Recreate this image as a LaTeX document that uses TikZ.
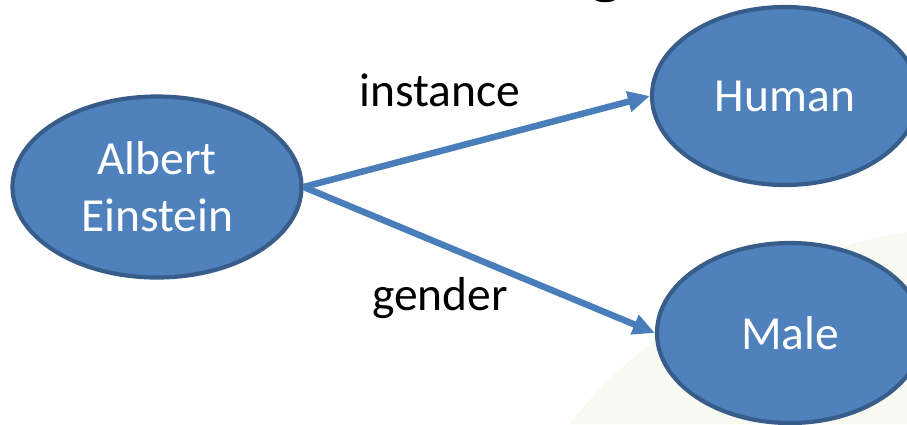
\documentclass[tikz,border=0pt]{standalone}
\usepackage{fontspec}
\setmainfont{Carlito}
\usetikzlibrary{shapes.geometric,arrows.meta}
\definecolor{nodefill}{HTML}{4F81BD}
\definecolor{nodeline}{HTML}{385D8A}
\definecolor{arrowcol}{HTML}{4A7EBB}
\definecolor{bggreen}{HTML}{F8FAF2}
\tikzset{
  entity/.style={ellipse, fill=nodefill, draw=nodeline, line width=4.2pt,
    inner sep=0pt, text=white, align=center,
    font=\fontsize{47.5}{57}\selectfont},
  rel/.style={draw=arrowcol, line width=6.5pt,
    -{Triangle[length=22pt,width=20pt]}},
  rellabel/.style={text=black, font=\fontsize{47.5}{57}\selectfont, inner sep=0pt}
}
\begin{document}
\begin{tikzpicture}[x=1pt,y=-1pt]
\useasboundingbox (0,0) rectangle (907,424);
\fill[white] (0,0) rectangle (907,424);
\fill[bggreen] (570,424) .. controls (640,330) and (780,252) .. (907,232) -- (907,424) -- cycle;
\fill[black] (595,0) .. controls (600,3) and (610,3) .. (615,0) -- cycle;
\node[entity, minimum width=289pt, minimum height=181pt] (ae) at (157,187) {Albert\\Einstein};
\node[entity, minimum width=266pt, minimum height=178pt] (hu) at (785,96) {Human};
\node[entity, minimum width=266pt, minimum height=180pt] (ma) at (790,333) {Male};
\draw[rel] (ae.east) -- (hu.west);
\draw[rel] (ae.east) -- (ma.west);
\node[rellabel] (li) at (440,90) {instance};
\node[rellabel] (lg) at (440,298) {gender};
\end{tikzpicture}
\end{document}
